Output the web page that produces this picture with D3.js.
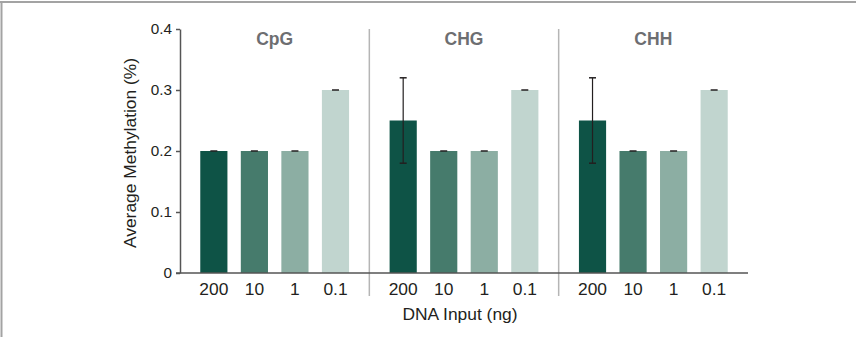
<!DOCTYPE html>
<html><head><meta charset="utf-8">
<script src="https://cdn.jsdelivr.net/npm/d3@7"></script>
<style>body{margin:0;background:#fff}svg{display:block}text{font-family:"Liberation Sans",Arial,sans-serif}</style>
</head><body>
<svg id="c" width="856" height="337"></svg>
<script>
const contexts = ["CpG", "CHG", "CHH"];
const inputs = ["200", "10", "1", "0.1"];
const cpgValues = [0.2, 0.2, 0.2, 0.3];
const chgValues = [0.25, 0.2, 0.2, 0.3];
const chhValues = [0.25, 0.2, 0.2, 0.3];
const cpgErrors = [0, 0, 0, 0];
const chgErrors = [0.07, 0, 0, 0];
const chhErrors = [0.07, 0, 0, 0];
const yTicks = [0, 0.1, 0.2, 0.3, 0.4];
const colors = ["#0e5346", "#467b6c", "#8caea3", "#c1d5cf"];

const values = [cpgValues, chgValues, chhValues];
const errors = [cpgErrors, chgErrors, chhErrors];

const svg = d3.select("#c");
// frame
svg.append("line").attr("x1",0).attr("x2",856).attr("y1",2).attr("y2",2).attr("stroke","#a3a3a3").attr("stroke-width",2);
svg.append("line").attr("x1",1.5).attr("x2",1.5).attr("y1",1).attr("y2",337).attr("stroke","#a3a3a3").attr("stroke-width",2);

const pLeft = 180, pRight = 748, pTop = 29, pBottom = 273;
const y = d3.scaleLinear().domain([0, 0.4]).range([pBottom, pTop]);
const gx = d3.scaleBand().domain(contexts).range([pLeft, pRight]).padding(0);
const bx = d3.scaleBand().domain(inputs).range([0, gx.bandwidth()]).paddingInner(0.33).paddingOuter(0.5);

// separators
contexts.slice(1).forEach(c => {
  svg.append("line").attr("x1", gx(c)).attr("x2", gx(c)).attr("y1", pTop).attr("y2", 296)
    .attr("stroke", "#b5b5b5").attr("stroke-width", 1.5);
});

contexts.forEach((c, gi) => {
  const g = svg.append("g").attr("transform", `translate(${gx(c)},0)`);
  inputs.forEach((inp, i) => {
    const v = values[gi][i], e = errors[gi][i];
    g.append("rect").attr("x", bx(inp)).attr("width", bx.bandwidth())
      .attr("y", y(v)).attr("height", y(0) - y(v)).attr("fill", colors[i]);
    const cx = bx(inp) + bx.bandwidth() / 2;
    if (e > 0) {
      g.append("line").attr("x1", cx).attr("x2", cx).attr("y1", y(v - e)).attr("y2", y(v + e))
        .attr("stroke", "#231f20").attr("stroke-width", 1.2);
      [v - e, v + e].forEach(t => g.append("line").attr("x1", cx - 3.5).attr("x2", cx + 3.5)
        .attr("y1", y(t)).attr("y2", y(t)).attr("stroke", "#231f20").attr("stroke-width", 1.5));
    } else {
      g.append("line").attr("x1", cx - 3.5).attr("x2", cx + 3.5)
        .attr("y1", y(v)).attr("y2", y(v)).attr("stroke", "#231f20").attr("stroke-width", 1.5);
    }
    g.append("text").attr("x", cx).attr("y", 295).attr("text-anchor", "middle")
      .attr("font-size", 17.4).attr("fill", "#231f20").text(inp);
  });
  g.append("text").attr("x", gx.bandwidth() / 2).attr("y", 45).attr("text-anchor", "middle")
    .attr("font-size", 17.5).attr("font-weight", "bold").attr("fill", "#6d6e71").text(c);
});

// y axis
const yAxis = d3.axisLeft(y).tickValues(yTicks).tickFormat(d => d === 0 ? "0" : d3.format(".1f")(d)).tickSize(4).tickPadding(4).tickSizeOuter(0);
const ya = svg.append("g").attr("transform", `translate(${pLeft},0)`).call(yAxis);
ya.select(".domain").attr("stroke", "#555").attr("stroke-width", 1.5);
ya.selectAll(".tick line").attr("stroke", "#555").attr("stroke-width", 1.5);
ya.selectAll(".tick text").attr("font-size", 15.3).attr("fill", "#231f20").attr("font-family", "Liberation Sans, Arial, sans-serif");

// x axis line
svg.append("line").attr("x1", pLeft - 4).attr("x2", pRight).attr("y1", pBottom).attr("y2", pBottom)
  .attr("stroke", "#555").attr("stroke-width", 1.5);

// titles
svg.append("text").attr("transform", `translate(136,153) rotate(-90)`)
  .attr("text-anchor", "middle").attr("font-size", 17.4).attr("fill", "#231f20").text("Average Methylation (%)");
svg.append("text").attr("x", 460).attr("y", 320).attr("text-anchor", "middle")
  .attr("font-size", 17.4).attr("fill", "#231f20").text("DNA Input (ng)");
</script>
</body></html>
